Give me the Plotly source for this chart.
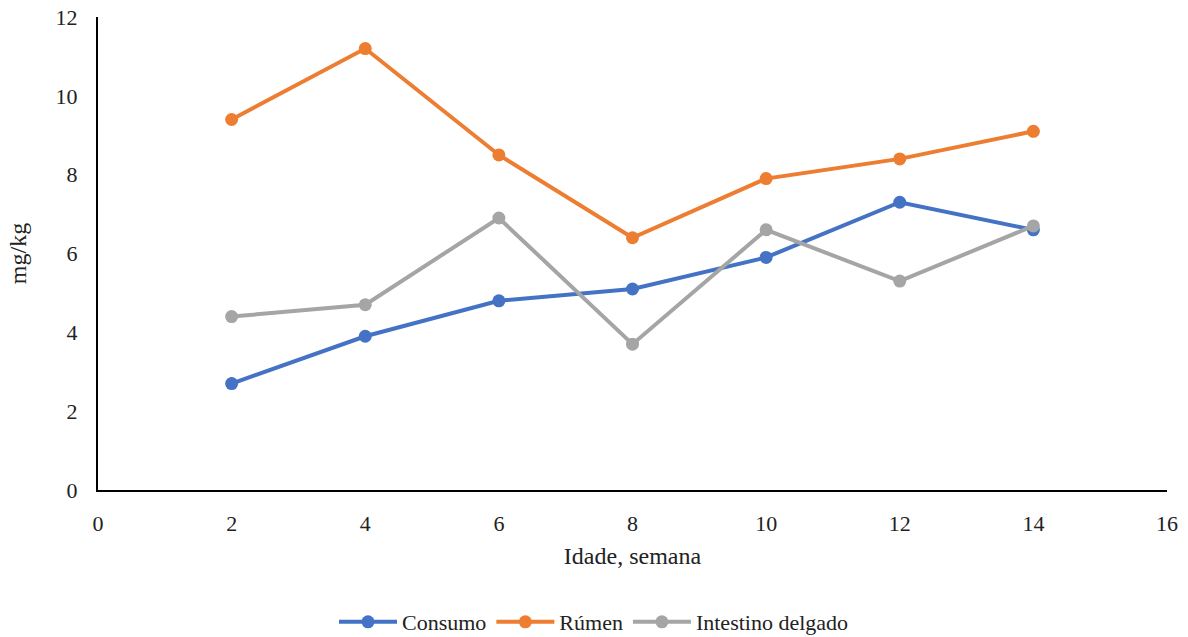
import plotly.graph_objects as go

weeks = [2, 4, 6, 8, 10, 12, 14]
consumo = [2.7, 3.9, 4.8, 5.1, 5.9, 7.3, 6.6]
rumen = [9.4, 11.2, 8.5, 6.4, 7.9, 8.4, 9.1]
intestino = [4.4, 4.7, 6.9, 3.7, 6.6, 5.3, 6.7]

series = [
    ("Consumo", consumo, "#4472C4"),
    ("Rúmen", rumen, "#ED7D31"),
    ("Intestino delgado", intestino, "#A5A5A5"),
]

font_family = "'Liberation Serif', 'DejaVu Serif', serif"

fig = go.Figure()
for name, vals, color in series:
    fig.add_trace(go.Scatter(
        x=weeks, y=vals, name=name, mode="lines+markers",
        line=dict(color=color, width=4),
        marker=dict(color=color, size=13),
    ))

fig.update_layout(
    width=1188, height=637,
    margin=dict(l=98, r=21, t=17, b=147),
    paper_bgcolor="white", plot_bgcolor="white",
    font=dict(family=font_family, size=22, color="#222"),
    showlegend=True,
    legend=dict(orientation="h", xref="container", x=0.5, xanchor="center",
                yref="container", y=0.0235, yanchor="middle",
                font=dict(size=22), traceorder="normal", tracegroupgap=0,
                itemwidth=58),
    xaxis=dict(range=[0, 16], dtick=2, tick0=0, showgrid=False, zeroline=False,
               showline=True, linecolor="black", linewidth=2, automargin=False,
               ticks="outside", ticklen=13, tickcolor="rgba(0,0,0,0)",
               tickfont=dict(size=22),
               title=dict(text="Idade, semana", standoff=12, font=dict(size=24))),
    yaxis=dict(range=[0, 12], dtick=2, tick0=0, showgrid=False, zeroline=False,
               showline=True, linecolor="black", linewidth=2, automargin=False,
               ticks="outside", ticklen=14, tickcolor="rgba(0,0,0,0)",
               tickfont=dict(size=22),
               title=dict(text="mg/kg", standoff=22, font=dict(size=24))),
)

fig.write_html("out.html",
               config={"displayModeBar": False},
               post_script="document.body.style.margin='0';document.body.style.padding='0';")
